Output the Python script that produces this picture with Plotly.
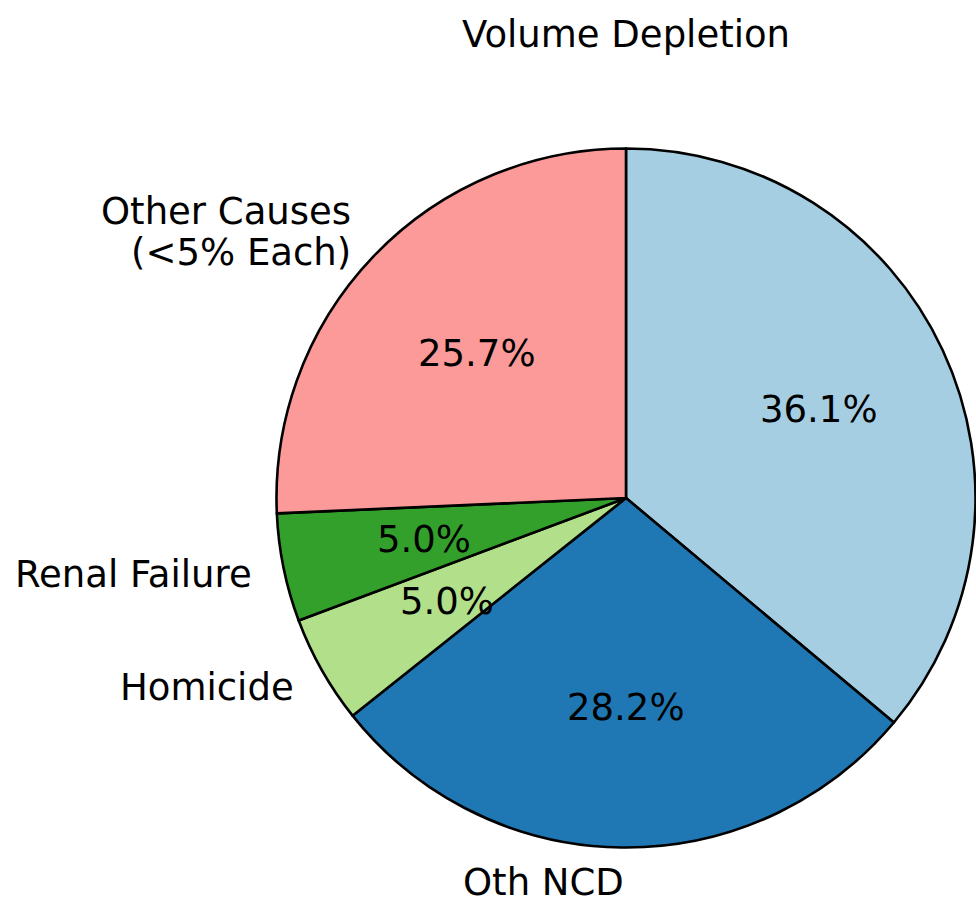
import math
import plotly.graph_objects as go

# Data (clockwise from 12 o'clock)
labels = ["Volume Depletion", "Oth NCD", "Homicide", "Renal Failure", "Other Causes<br>(<5% Each)"]
values = [36.1, 28.2, 5.0, 5.0, 25.7]
colors = ["#a6cee3", "#1f78b4", "#b2df8a", "#33a02c", "#fb9a99"]
title_text = "Volume Depletion"

W, H = 976, 911
FONT = dict(family="DejaVu Sans", size=37, color="black")
LINE_H = 41

# pie geometry (pixels, in figure coords)
cx, cy, R = 626.0, 498.0, 349.5
dom_x = [(cx - R) / W, min(1.0, (cx + R) / W)]
dom_y = [1 - (cy + R + 1) / H, 1 - (cy - R - 1) / H]

fig = go.Figure(go.Pie(
    labels=labels, values=values, sort=False, direction="clockwise", rotation=0,
    marker=dict(colors=colors, line=dict(color="black", width=2.6)),
    textinfo="none", hoverinfo="label+percent", showlegend=False,
    domain=dict(x=dom_x, y=dom_y),
))

total = sum(values)
cum = 0.0
annotations = []
for lab, v in zip(labels, values):
    mid = math.radians(90 - (cum + v / 2) / total * 360)
    cum += v
    px = cx + 0.6 * R * math.cos(mid)
    py = cy - 0.6 * R * math.sin(mid)
    annotations.append(dict(x=px / W, y=1 - py / H, xref="paper", yref="paper",
                            text=f"{v / total * 100:.1f}%", showarrow=False, xshift=3,
                            xanchor="center", yanchor="middle", font=FONT))
    lx = cx + 1.1 * R * math.cos(mid)
    ly = cy - 1.1 * R * math.sin(mid)
    if lx < W - 20:
        lines = lab.split("<br>")
        n = len(lines)
        left = lx < cx
        for i, line in enumerate(lines):
            yy = ly + (i - (n - 1) / 2) * LINE_H
            annotations.append(dict(x=lx / W, y=1 - yy / H, xref="paper", yref="paper",
                                    text=line, showarrow=False,
                                    xshift=5 if left else -5,
                                    xanchor="right" if left else "left",
                                    yanchor="middle", font=FONT))

annotations.append(dict(x=cx / W, y=1 - 35 / H, xref="paper", yref="paper", text=title_text,
                        showarrow=False, xanchor="center", yanchor="middle", font=FONT))

fig.update_layout(width=W, height=H, margin=dict(l=0, r=0, t=0, b=0),
                  paper_bgcolor="white", plot_bgcolor="white",
                  font=FONT, annotations=annotations)
fig.write_html("out.html", config={"displayModeBar": False},
               post_script="document.body.style.margin='0';document.body.style.overflow='hidden';")
